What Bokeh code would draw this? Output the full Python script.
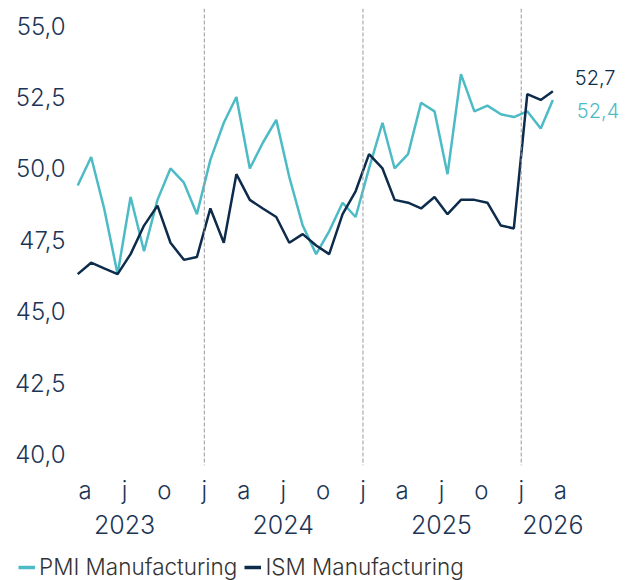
import pandas as pd
from bokeh.plotting import figure
from bokeh.layouts import column
from bokeh.models import (Range1d, FixedTicker, CustomJSTickFormatter, DatetimeAxis,
                          Span, Legend, LegendItem, Label)
from bokeh.embed import file_html
from bokeh.resources import INLINE

# ---- data (monthly, Mar 2023 - Mar 2026) ----
months = pd.date_range("2023-03-01", periods=37, freq="MS") + pd.Timedelta(days=14)

pmi = [49.4, 50.4, 48.6, 46.3, 49.0, 47.1, 48.9, 50.0, 49.5, 48.4,
       50.3, 51.6, 52.5, 50.0, 50.9, 51.7, 49.7, 48.0, 47.0, 47.8, 48.8, 48.3,
       50.0, 51.6, 50.0, 50.5, 52.3, 52.0, 49.8, 53.3, 52.0, 52.2, 51.9, 51.8,
       52.0, 51.4, 52.4]
ism = [46.3, 46.7, 46.5, 46.3, 47.0, 48.0, 48.7, 47.4, 46.8, 46.9,
       48.6, 47.4, 49.8, 48.9, 48.6, 48.3, 47.4, 47.7, 47.3, 47.0, 48.4, 49.2,
       50.5, 50.0, 48.9, 48.8, 48.6, 49.0, 48.4, 48.9, 48.9, 48.8, 48.0, 47.9,
       52.6, 52.4, 52.7]

series_names = ["PMI Manufacturing", "ISM Manufacturing"]
y_ticks = [40.0, 42.5, 45.0, 47.5, 50.0, 52.5, 55.0]
month_ticks = ["2023-04-01", "2023-07-01", "2023-10-01", "2024-01-01", "2024-04-01",
               "2024-07-01", "2024-10-01", "2025-01-01", "2025-04-01", "2025-07-01",
               "2025-10-01", "2026-01-01", "2026-04-01"]
year_ticks = ["2023-07-01", "2024-07-01", "2025-07-01", "2026-03-15"]
year_lines = ["2024-01-01", "2025-01-01", "2026-01-01"]

TEAL = "#4DBBC5"
NAVY = "#0D2B4A"
TXT = "#1C3556"
FONT = "Inter Light"


def ms(s):
    return pd.Timestamp(s).timestamp() * 1000.0


p = figure(width=629, height=544, x_axis_type="datetime",
           x_range=Range1d(pd.Timestamp("2023-03-03"), pd.Timestamp("2026-08-18")),
           y_range=Range1d(39.6, 55.6),
           output_backend="svg", toolbar_location=None,
           min_border_left=72, min_border_right=9, min_border_top=8, min_border_bottom=79)
p.outline_line_color = None
p.xgrid.visible = False
p.ygrid.visible = False
p.background_fill_color = "white"
p.border_fill_color = "white"

# year separators
for d in year_lines:
    p.add_layout(Span(location=ms(d), dimension="height", line_color="#999999",
                      line_width=1, line_dash="4 2"))

r_pmi = p.line(months, pmi, line_color=TEAL, line_width=2.5)
r_ism = p.line(months, ism, line_color=NAVY, line_width=2.5)

# y axis
ya = p.yaxis[0]
ya.ticker = FixedTicker(ticks=y_ticks)
ya.formatter = CustomJSTickFormatter(code="return tick.toFixed(1).replace('.', ',');")
ya.axis_line_color = None
ya.major_tick_line_color = None
ya.minor_tick_line_color = None
ya.major_tick_out = 0
ya.major_tick_in = 0
ya.major_label_standoff = 7
ya.major_label_text_font = FONT
ya.major_label_text_font_size = "24px"
ya.major_label_text_color = TXT

# month axis
xa = p.xaxis[0]
xa.ticker = FixedTicker(ticks=[ms(t) for t in month_ticks])
xa.formatter = CustomJSTickFormatter(code="return 'jfmamjjasond'[new Date(tick).getUTCMonth()];")
xa.axis_line_color = None
xa.major_tick_line_color = None
xa.minor_tick_line_color = None
xa.major_tick_out = 0
xa.major_tick_in = 0
xa.major_label_standoff = 10
xa.major_label_text_font = FONT
xa.major_label_text_font_size = "24px"
xa.major_label_text_color = TXT

# year axis
ya2 = DatetimeAxis(ticker=FixedTicker(ticks=[ms(t) for t in year_ticks]),
                   formatter=CustomJSTickFormatter(code="return String(new Date(tick).getUTCFullYear());"))
ya2.axis_line_color = None
ya2.major_tick_line_color = None
ya2.minor_tick_line_color = None
ya2.major_tick_out = 0
ya2.major_tick_in = 0
ya2.major_label_standoff = 7
ya2.major_label_text_font = FONT
ya2.major_label_text_font_size = "25px"
ya2.major_label_text_color = TXT
p.add_layout(ya2, "below")

# end labels
p.add_layout(Label(x=ms(months[-1]), y=ism[-1], text=f"{ism[-1]:.1f}".replace(".", ","),
                   x_offset=22, y_offset=14, text_baseline="middle",
                   text_font=FONT, text_font_size="20px", text_color=NAVY))
p.add_layout(Label(x=ms(months[-1]), y=pmi[-1], text=f"{pmi[-1]:.1f}".replace(".", ","),
                   x_offset=24, y_offset=-11, text_baseline="middle",
                   text_font=FONT, text_font_size="20px", text_color=TEAL))

# legend figure (dummy lines lie outside its range; only their legend glyphs show)
lg = figure(width=629, height=36, output_backend="svg", toolbar_location=None,
            x_range=Range1d(0, 1), y_range=Range1d(0, 1), min_border=0)
lg.frame_align = False
lg.axis.visible = False
lg.xgrid.visible = False
lg.ygrid.visible = False
lg.outline_line_color = None
lg_pmi = lg.line([-5, -4], [-5, -4], line_color=TEAL, line_width=3.5)
lg_ism = lg.line([-5, -4], [-5, -4], line_color=NAVY, line_width=3.5)
legend = Legend(items=[LegendItem(label=series_names[0], renderers=[lg_pmi]),
                       LegendItem(label=series_names[1], renderers=[lg_ism])],
                orientation="horizontal", location=(18, 0),
                glyph_width=17, glyph_height=20, label_standoff=4, spacing=7,
                padding=0, margin=0, border_line_color=None, background_fill_alpha=0,
                label_text_font=FONT, label_text_font_size="22.5px",
                label_text_color="#333333")
lg.add_layout(legend, "center")

open("out.html", "w").write(file_html(column(p, lg, spacing=0), INLINE))
